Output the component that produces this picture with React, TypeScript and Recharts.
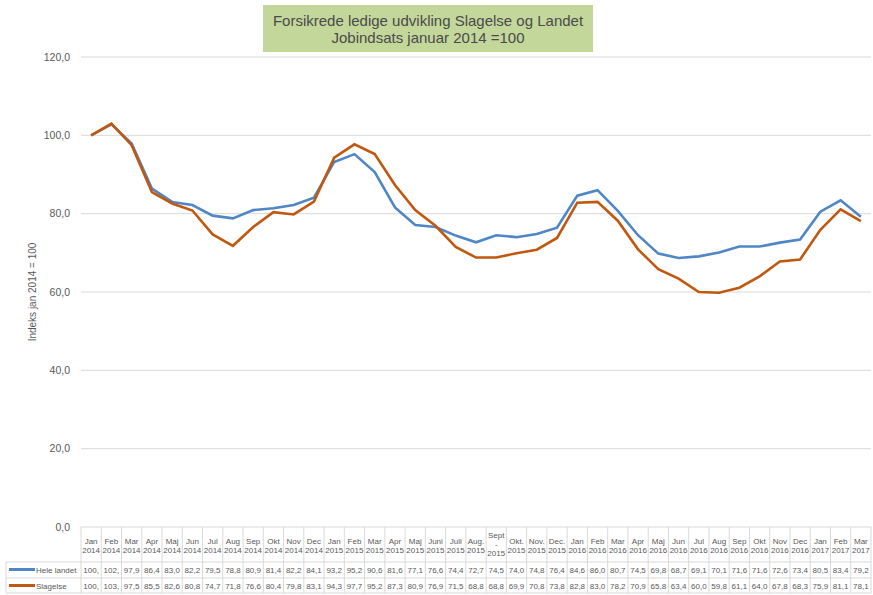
import React from 'react';
import { LineChart, Line, XAxis, YAxis, CartesianGrid } from 'recharts';

const months = ['Jan','Feb','Mar','Apr','Maj','Jun','Jul','Aug','Sep','Okt','Nov','Dec',
  'Jan','Feb','Mar','Apr','Maj','Juni','Juli','Aug.','Sept','Okt.','Nov.','Dec.',
  'Jan','Feb','Mar','Apr','Maj','Jun','Jul','Aug','Sep','Okt','Nov','Dec',
  'Jan','Feb','Mar'];
const years = ['2014','2014','2014','2014','2014','2014','2014','2014','2014','2014','2014','2014',
  '2015','2015','2015','2015','2015','2015','2015','2015','2015','2015','2015','2015',
  '2016','2016','2016','2016','2016','2016','2016','2016','2016','2016','2016','2016',
  '2017','2017','2017'];
const heleLandet = [100, 102.8, 97.9, 86.4, 83.0, 82.2, 79.5, 78.8, 80.9, 81.4, 82.2, 84.1,
  93.2, 95.2, 90.6, 81.6, 77.1, 76.6, 74.4, 72.7, 74.5, 74.0, 74.8, 76.4,
  84.6, 86.0, 80.7, 74.5, 69.8, 68.7, 69.1, 70.1, 71.6, 71.6, 72.6, 73.4,
  80.5, 83.4, 79.2];
const slagelse = [100, 103.0, 97.5, 85.5, 82.6, 80.8, 74.7, 71.8, 76.6, 80.4, 79.8, 83.1,
  94.3, 97.7, 95.2, 87.3, 80.9, 76.9, 71.5, 68.8, 68.8, 69.9, 70.8, 73.8,
  82.8, 83.0, 78.2, 70.9, 65.8, 63.4, 60.0, 59.8, 61.1, 64.0, 67.8, 68.3,
  75.9, 81.1, 78.1];
const yTicks = [0, 20, 40, 60, 80, 100, 120];
const seriesNames = ['Hele landet', 'Slagelse'];

const data = months.map((m, i) => ({
  cat: m + ' ' + years[i] + ' ' + i,
  hele: heleLandet[i],
  slag: slagelse[i],
}));

const BLUE = '#4F86C6';
const ORANGE = '#C0580F';
const BORDER = '#d9d9d9';
const TXT = '#595959';
const FONT = '"Liberation Sans", Arial, sans-serif';

const PLOT_W = 790;
const cw = PLOT_W / months.length;

const fmt = (v: number) => {
  const s = v.toFixed(1).replace('.', ',');
  return v >= 100 ? s.slice(0, 4) : s;
};

const TableTick = (props: any) => {
  const { x, y, payload } = props;
  const i = payload.index;
  const left = x - cw / 2;
  const right = x + cw / 2;
  const isSept = months[i] === 'Sept';
  const els: any[] = [];
  els.push(<line key="vl" x1={left} y1={y} x2={left} y2={y + 66} stroke={BORDER} />);
  if (i === months.length - 1) {
    els.push(<line key="vr" x1={right} y1={y} x2={right} y2={y + 66} stroke={BORDER} />);
  }
  [35, 51, 66].forEach((dy) => {
    els.push(<line key={'h' + dy} x1={left} y1={y + dy} x2={right} y2={y + dy} stroke={BORDER} />);
  });
  if (isSept) {
    els.push(<text key="m" x={x} y={y + 11} textAnchor="middle" fontSize={8} fill={TXT} fontFamily={FONT}>{months[i]}</text>);
    els.push(<text key="d" x={x} y={y + 20} textAnchor="middle" fontSize={8} fill={TXT} fontFamily={FONT}>-</text>);
    els.push(<text key="y" x={x} y={y + 29} textAnchor="middle" fontSize={8} fill={TXT} fontFamily={FONT}>{years[i]}</text>);
  } else {
    els.push(<text key="m" x={x} y={y + 17} textAnchor="middle" fontSize={8} fill={TXT} fontFamily={FONT}>{months[i]}</text>);
    els.push(<text key="y" x={x} y={y + 26} textAnchor="middle" fontSize={8} fill={TXT} fontFamily={FONT}>{years[i]}</text>);
  }
  els.push(<text key="v1" x={x} y={y + 45.5} textAnchor="middle" fontSize={8} fill={TXT} fontFamily={FONT}>{fmt(heleLandet[i])}</text>);
  els.push(<text key="v2" x={x} y={y + 62} textAnchor="middle" fontSize={8} fill={TXT} fontFamily={FONT}>{fmt(slagelse[i])}</text>);
  if (i === 0) {
    const lx = 6;
    [35, 51, 66].forEach((dy) => {
      els.push(<line key={'lh' + dy} x1={lx} y1={y + dy} x2={left} y2={y + dy} stroke={BORDER} />);
    });
    els.push(<line key="lv" x1={lx} y1={y + 35} x2={lx} y2={y + 66} stroke={BORDER} />);
    els.push(<line key="ls1" x1={9} y1={y + 42.5} x2={35} y2={y + 42.5} stroke={BLUE} strokeWidth={3} />);
    els.push(<line key="ls2" x1={9} y1={y + 58.5} x2={35} y2={y + 58.5} stroke={ORANGE} strokeWidth={3} />);
    els.push(<text key="ln1" x={36} y={y + 45.5} fontSize={8} fill={TXT} fontFamily={FONT}>{seriesNames[0]}</text>);
    els.push(<text key="ln2" x={36} y={y + 62} fontSize={8} fill={TXT} fontFamily={FONT}>{seriesNames[1]}</text>);
  }
  return <g>{els}</g>;
};

const YLabel = (props: any) => {
  const { viewBox } = props;
  const cy = viewBox.y + viewBox.height / 2;
  return (
    <text x={36} y={cy} transform={`rotate(-90, 36, ${cy})`} textAnchor="middle" fontSize={10} fill={TXT} fontFamily={FONT}>
      Indeks jan 2014 = 100
    </text>
  );
};

export default function App() {
  return (
    <div style={{ position: 'absolute', left: 0, top: 0, width: 873, height: 595, background: '#fff' }}>
      <div style={{
        position: 'absolute', left: 263, top: 5, width: 330, height: 47, background: '#C4D79B',
        color: '#4a4a4a', fontFamily: FONT, fontSize: 15, lineHeight: '17px', textAlign: 'center',
        display: 'flex', flexDirection: 'column', justifyContent: 'center', zIndex: 2,
      }}>
        <div>Forsikrede ledige udvikling Slagelse og Landet</div>
        <div>Jobindsats januar 2014 =100</div>
      </div>
      <LineChart width={873} height={595} data={data} margin={{ top: 57, right: 2, bottom: 0, left: 0 }}>
        <CartesianGrid vertical={false} stroke={BORDER} />
        <XAxis dataKey="cat" scale="band" interval={0} height={68} axisLine={false} tickLine={false}
          tickSize={0} tickMargin={0} tick={<TableTick />} />
        <YAxis domain={[0, 120]} ticks={yTicks} width={81} axisLine={false} tickLine={false}
          tickSize={0} tickMargin={11}
          tickFormatter={(v: number) => v.toFixed(1).replace('.', ',')}
          tick={{ fontSize: 10.5, fill: TXT, fontFamily: FONT }}
          label={<YLabel />} />
        <Line dataKey="hele" stroke={BLUE} strokeWidth={2.6} dot={false} isAnimationActive={false} />
        <Line dataKey="slag" stroke={ORANGE} strokeWidth={2.6} dot={false} isAnimationActive={false} />
      </LineChart>
    </div>
  );
}
